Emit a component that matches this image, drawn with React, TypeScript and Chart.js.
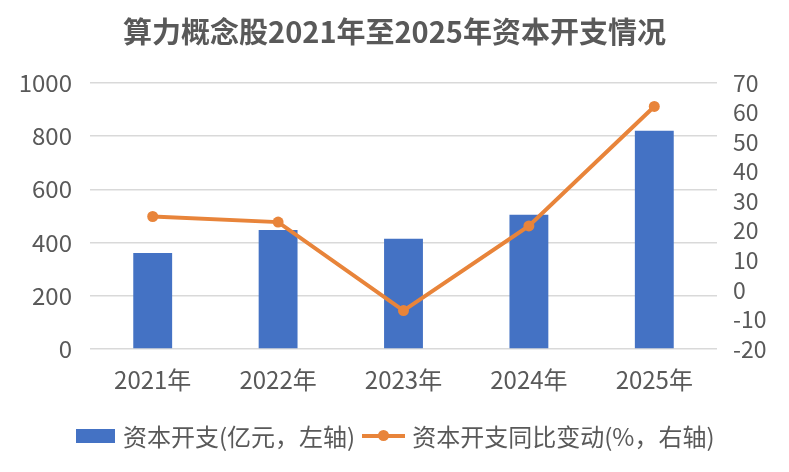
import { useEffect, useRef } from 'react';
import { Chart, registerables } from 'chart.js';

Chart.register(...registerables);

const years = ['2021年', '2022年', '2023年', '2024年', '2025年'];
const capex = [361, 447, 414, 504, 820];
const capexYoY = [24.8, 22.9, -7.0, 21.6, 62.0];

const titleText = '算力概念股2021年至2025年资本开支情况';
const barLabel = '资本开支(亿元，左轴)';
const lineLabel = '资本开支同比变动(%，右轴)';

const BLUE = '#4472C4';
const ORANGE = '#E8843A';
const TEXT = '#595959';
const GRID = '#d9d9d9';
const FONT = '"Noto Sans CJK SC", "Noto Sans", sans-serif';

export default function App() {
  const canvasRef = useRef<HTMLCanvasElement | null>(null);

  useEffect(() => {
    if (!canvasRef.current) return;

    const chart = new Chart(canvasRef.current, {
      type: 'bar',
      data: {
        labels: years,
        datasets: [
          {
            type: 'line',
            label: lineLabel,
            data: capexYoY,
            yAxisID: 'y1',
            borderColor: ORANGE,
            backgroundColor: ORANGE,
            borderWidth: 4,
            pointRadius: 5.5,
            pointBorderWidth: 0,
            tension: 0,
            order: 1,
          },
          {
            type: 'bar',
            label: barLabel,
            data: capex,
            yAxisID: 'y',
            backgroundColor: BLUE,
            categoryPercentage: 1,
            barPercentage: 0.31,
            order: 2,
          },
        ],
      },
      options: {
        responsive: true,
        maintainAspectRatio: false,
        animation: false,
        layout: { padding: { left: 0, right: 0, top: 0, bottom: 63 } },
        plugins: {
          legend: { display: false },
          tooltip: { enabled: false },
          title: {
            display: true,
            text: titleText,
            color: TEXT,
            font: { family: FONT, size: 29, weight: 'bold' },
            padding: { top: 15, bottom: 33 },
          },
        },
        scales: {
          x: {
            grid: { display: false, drawTicks: false },
            border: { display: false },
            ticks: {
              color: TEXT,
              padding: 16,
              font: { family: FONT, size: 24 },
            },
            afterFit(scale) {
              scale.height = 60;
            },
          },
          y: {
            position: 'left',
            min: 0,
            max: 1000,
            ticks: {
              stepSize: 200,
              color: TEXT,
              padding: 18,
              font: { family: FONT, size: 24 },
              callback: (value) => String(value),
            },
            grid: { color: GRID, lineWidth: 1.5, drawTicks: false },
            border: { display: false },
            afterFit(scale) {
              scale.width = 90;
            },
          },
          y1: {
            position: 'right',
            min: -20,
            max: 70,
            ticks: {
              stepSize: 10,
              autoSkip: false,
              color: TEXT,
              padding: 16,
              font: { family: FONT, size: 23 },
            },
            grid: { drawOnChartArea: false, drawTicks: false },
            border: { display: false },
            afterFit(scale) {
              scale.width = 72;
            },
          },
        },
      },
    });

    return () => {
      chart.destroy();
    };
  }, []);

  return (
    <div style={{ position: 'relative', width: 789, height: 472, margin: -8, background: '#fff', fontFamily: FONT }}>
      <canvas ref={canvasRef} />
      <div
        style={{
          position: 'absolute',
          left: 76,
          top: 418,
          display: 'flex',
          alignItems: 'center',
          color: TEXT,
          fontSize: 24,
          whiteSpace: 'nowrap',
        }}
      >
        <span style={{ width: 39, height: 14, background: BLUE, display: 'inline-block', marginRight: 8 }} />
        <span>{barLabel}</span>
        <span style={{ position: 'relative', width: 43, height: 14, display: 'inline-block', margin: '0 7px' }}>
          <span style={{ position: 'absolute', left: 0, right: 0, top: 5, height: 4, background: ORANGE }} />
          <span
            style={{
              position: 'absolute',
              left: 16,
              top: 1.5,
              width: 11,
              height: 11,
              borderRadius: '50%',
              background: ORANGE,
            }}
          />
        </span>
        <span>{lineLabel}</span>
      </div>
    </div>
  );
}
